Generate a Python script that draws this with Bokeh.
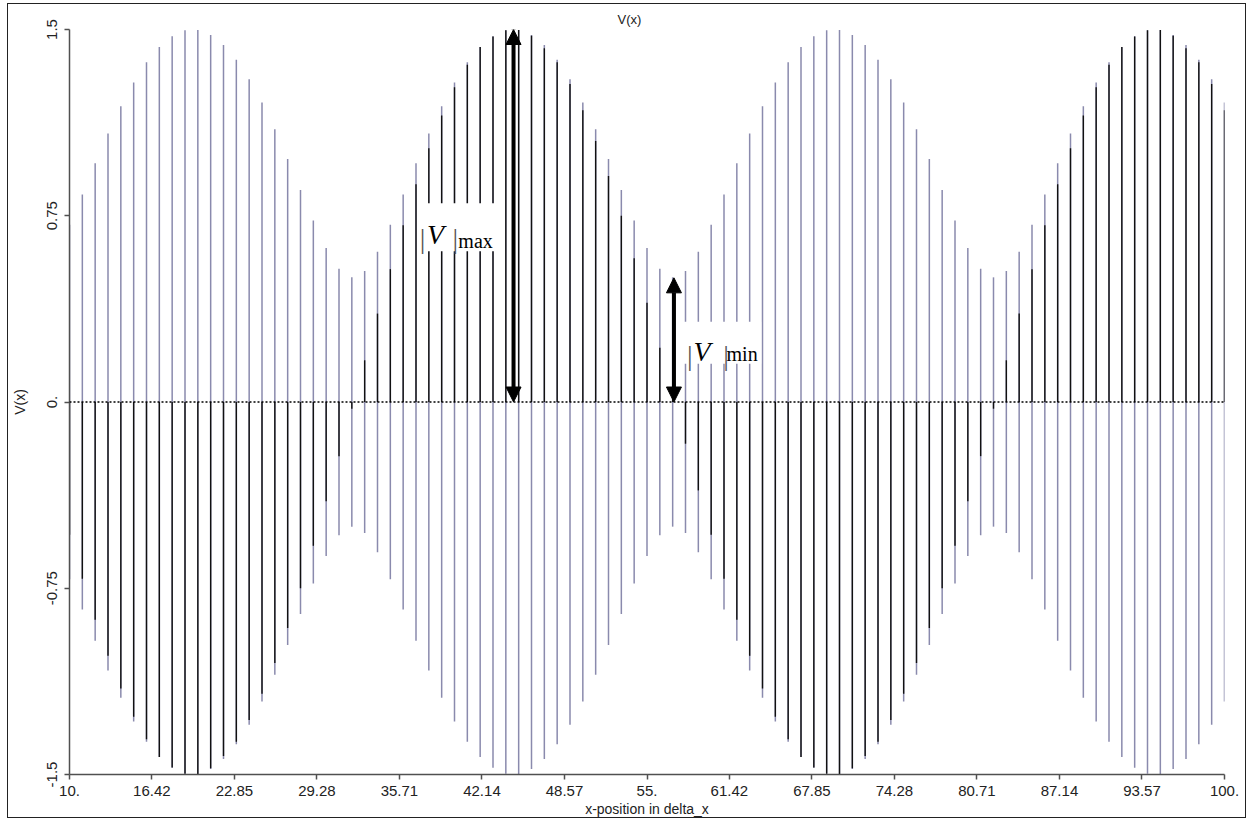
import numpy as np
from bokeh.plotting import figure
from bokeh.models import (Range1d, FixedTicker, Span, Arrow, NormalHead, Label,
                          BoxAnnotation, ColumnDataSource)
from bokeh.embed import file_html
from bokeh.resources import INLINE

# ---------------- data ----------------
x_pos = list(range(10, 101))

# |V(x)| envelope (blue-grey bars, drawn from -|V| to +|V|)
envelope = [
    0.714, 0.836, 0.961, 1.081, 1.191, 1.287, 1.368, 1.430, 1.473, 1.497,
    1.498, 1.478, 1.438, 1.378, 1.300, 1.206, 1.098, 0.979, 0.854, 0.731,
    0.620, 0.537, 0.502, 0.528, 0.605, 0.714, 0.836, 0.961, 1.081, 1.191,
    1.287, 1.368, 1.430, 1.473, 1.497,
    1.498, 1.478, 1.438, 1.378, 1.300, 1.206, 1.098, 0.979, 0.854, 0.731,
    0.620, 0.537, 0.502, 0.528, 0.605, 0.714, 0.836, 0.961, 1.081, 1.191,
    1.287, 1.368, 1.430, 1.473, 1.497,
    1.498, 1.478, 1.438, 1.378, 1.300, 1.206, 1.098, 0.979, 0.854, 0.731,
    0.620, 0.537, 0.502, 0.528, 0.605, 0.714, 0.836, 0.961, 1.081, 1.191,
    1.287, 1.368, 1.430, 1.473, 1.497,
    1.498, 1.478, 1.438, 1.378, 1.300, 1.206,
]

# instantaneous V(x) (black bars, drawn from 0 to V)
instant = [
    -0.535, -0.712, -0.877, -1.022, -1.154, -1.267, -1.358, -1.430, -1.472, -1.497,
    -1.498, -1.475, -1.425, -1.368, -1.281, -1.175, -1.051, -0.910, -0.750, -0.579,
    -0.400, -0.218,
    -0.027,
    0.168, 0.356, 0.535, 0.712, 0.877, 1.022, 1.154, 1.267, 1.358, 1.430, 1.472, 1.497,
    1.498, 1.475, 1.425, 1.368, 1.281, 1.175, 1.051, 0.910, 0.750, 0.579, 0.400, 0.218,
    0.027,
    -0.168, -0.356, -0.535, -0.712, -0.877, -1.022, -1.154, -1.267, -1.358, -1.430, -1.472, -1.497,
    -1.498, -1.475, -1.425, -1.368, -1.281, -1.175, -1.051, -0.910, -0.750, -0.579, -0.400, -0.218,
    -0.027,
    0.168, 0.356, 0.535, 0.712, 0.877, 1.022, 1.154, 1.267, 1.358, 1.430, 1.472, 1.497,
    1.498, 1.475, 1.425, 1.368, 1.281, 1.175,
]

x_ticks = [10, 16.42, 22.85, 29.28, 35.71, 42.14, 48.57, 55, 61.42, 67.85, 74.28, 80.71, 87.14, 93.57, 100]
x_tick_labels = ["10.", "16.42", "22.85", "29.28", "35.71", "42.14", "48.57", "55.", "61.42",
                 "67.85", "74.28", "80.71", "87.14", "93.57", "100."]
y_ticks = [-1.5, -0.75, 0, 0.75, 1.5]
y_tick_labels = ["-1.5", "-0.75", "0.", "0.75", "1.5"]

vmax_pos, vmax_val = 44.6, 1.5
vmin_pos, vmin_val = 57.1, 0.5

# ---------------- figure ----------------
p = figure(width=1239, height=815, output_backend="svg", toolbar_location=None,
           x_range=Range1d(10, 100), y_range=Range1d(-1.5, 1.5),
           min_border_left=60, min_border_right=23, min_border_top=25, min_border_bottom=43)
p.styles = {"border": "1px solid #222", "margin-left": "7px", "margin-top": "3px"}
p.outline_line_color = None
p.xgrid.visible = False
p.ygrid.visible = False
p.background_fill_color = "white"
p.border_fill_color = "white"

FONT = "Liberation Sans"
p.title.text = "V(x)"
p.title.text_font = FONT
p.title.text_font_size = "13px"
p.title.text_font_style = "normal"
p.title.text_color = "#222222"
p.title.align = "left"
p.title.offset = 548
p.title.standoff = 6

src = ColumnDataSource(dict(x=x_pos, env=envelope, neg=[-e for e in envelope],
                            zero=[0.0] * len(x_pos), v=instant))
p.segment(x0="x", y0="neg", x1="x", y1="env", source=src,
          line_color="#8a8aad", line_width=1.5)
p.segment(x0="x", y0="zero", x1="x", y1="v", source=src,
          line_color="#111111", line_width=1.4)

p.add_layout(Span(location=0, dimension="width", line_color="black",
                  line_dash="2 2", line_width=1.5))

for ax in (p.xaxis[0], p.yaxis[0]):
    ax.axis_line_color = "#505050"
    ax.axis_line_width = 1.5
    ax.major_tick_line_color = "#505050"
    ax.major_tick_line_width = 1.5
    ax.major_tick_in = 0
    ax.major_tick_out = 5
    ax.minor_tick_line_color = None
    ax.major_label_text_font = FONT
    ax.major_label_text_font_size = "15px"
    ax.major_label_text_color = "#222222"
    ax.axis_label_text_font = FONT
    ax.axis_label_text_font_size = "14px"
    ax.axis_label_text_font_style = "normal"
    ax.axis_label_text_color = "#222222"

p.xaxis.ticker = FixedTicker(ticks=x_ticks)
p.xaxis.major_label_overrides = {t: l for t, l in zip(x_ticks, x_tick_labels)}
p.xaxis.axis_label = "x-position in delta_x"
p.xaxis.major_label_standoff = 6
p.xaxis.axis_label_standoff = 2

p.yaxis.ticker = FixedTicker(ticks=y_ticks)
p.yaxis.major_label_overrides = {t: l for t, l in zip(y_ticks, y_tick_labels)}
p.yaxis.major_label_orientation = "vertical"
p.yaxis.axis_label = "V(x)"
p.yaxis.major_label_standoff = 8
p.yaxis.axis_label_standoff = 16

# arrows
def head():
    return NormalHead(size=15, fill_color="black", line_color="black")

p.add_layout(Arrow(start=head(), end=head(), x_start=vmax_pos, y_start=0,
                   x_end=vmax_pos, y_end=vmax_val, line_width=4, line_color="black"))
p.add_layout(Arrow(start=head(), end=head(), x_start=vmin_pos, y_start=0,
                   x_end=vmin_pos, y_end=vmin_val, line_width=4, line_color="black"))

# label boxes
p.add_layout(BoxAnnotation(left=37.26, right=43.88, bottom=0.607, top=0.80,
                           fill_color="white", fill_alpha=1.0, line_color=None))
p.add_layout(BoxAnnotation(left=57.82, right=63.9, bottom=0.154, top=0.3235,
                           fill_color="white", fill_alpha=1.0, line_color=None))

SERIF = "Liberation Serif"
def bar(x, y):
    p.add_layout(Label(x=x, y=y, text="|", text_font=SERIF, text_font_size="28px",
                       text_color="#555555", text_baseline="alphabetic"))

# |V|max
bar(37.30, 0.66)
p.add_layout(Label(x=37.85, y=0.675, text="V", text_font=SERIF, text_font_size="28px",
                   text_font_style="italic", text_color="black", text_baseline="alphabetic"))
bar(39.85, 0.66)
p.add_layout(Label(x=40.30, y=0.647, text="max", text_font=SERIF, text_font_size="20px",
                   text_color="black", text_baseline="alphabetic"))
# |V|min
bar(58.12, 0.187)
p.add_layout(Label(x=58.62, y=0.202, text="V", text_font=SERIF, text_font_size="28px",
                   text_font_style="italic", text_color="black", text_baseline="alphabetic"))
bar(60.95, 0.187)
p.add_layout(Label(x=61.20, y=0.194, text="min", text_font=SERIF, text_font_size="20px",
                   text_color="black", text_baseline="alphabetic"))

open("out.html", "w").write(file_html(p, INLINE))
